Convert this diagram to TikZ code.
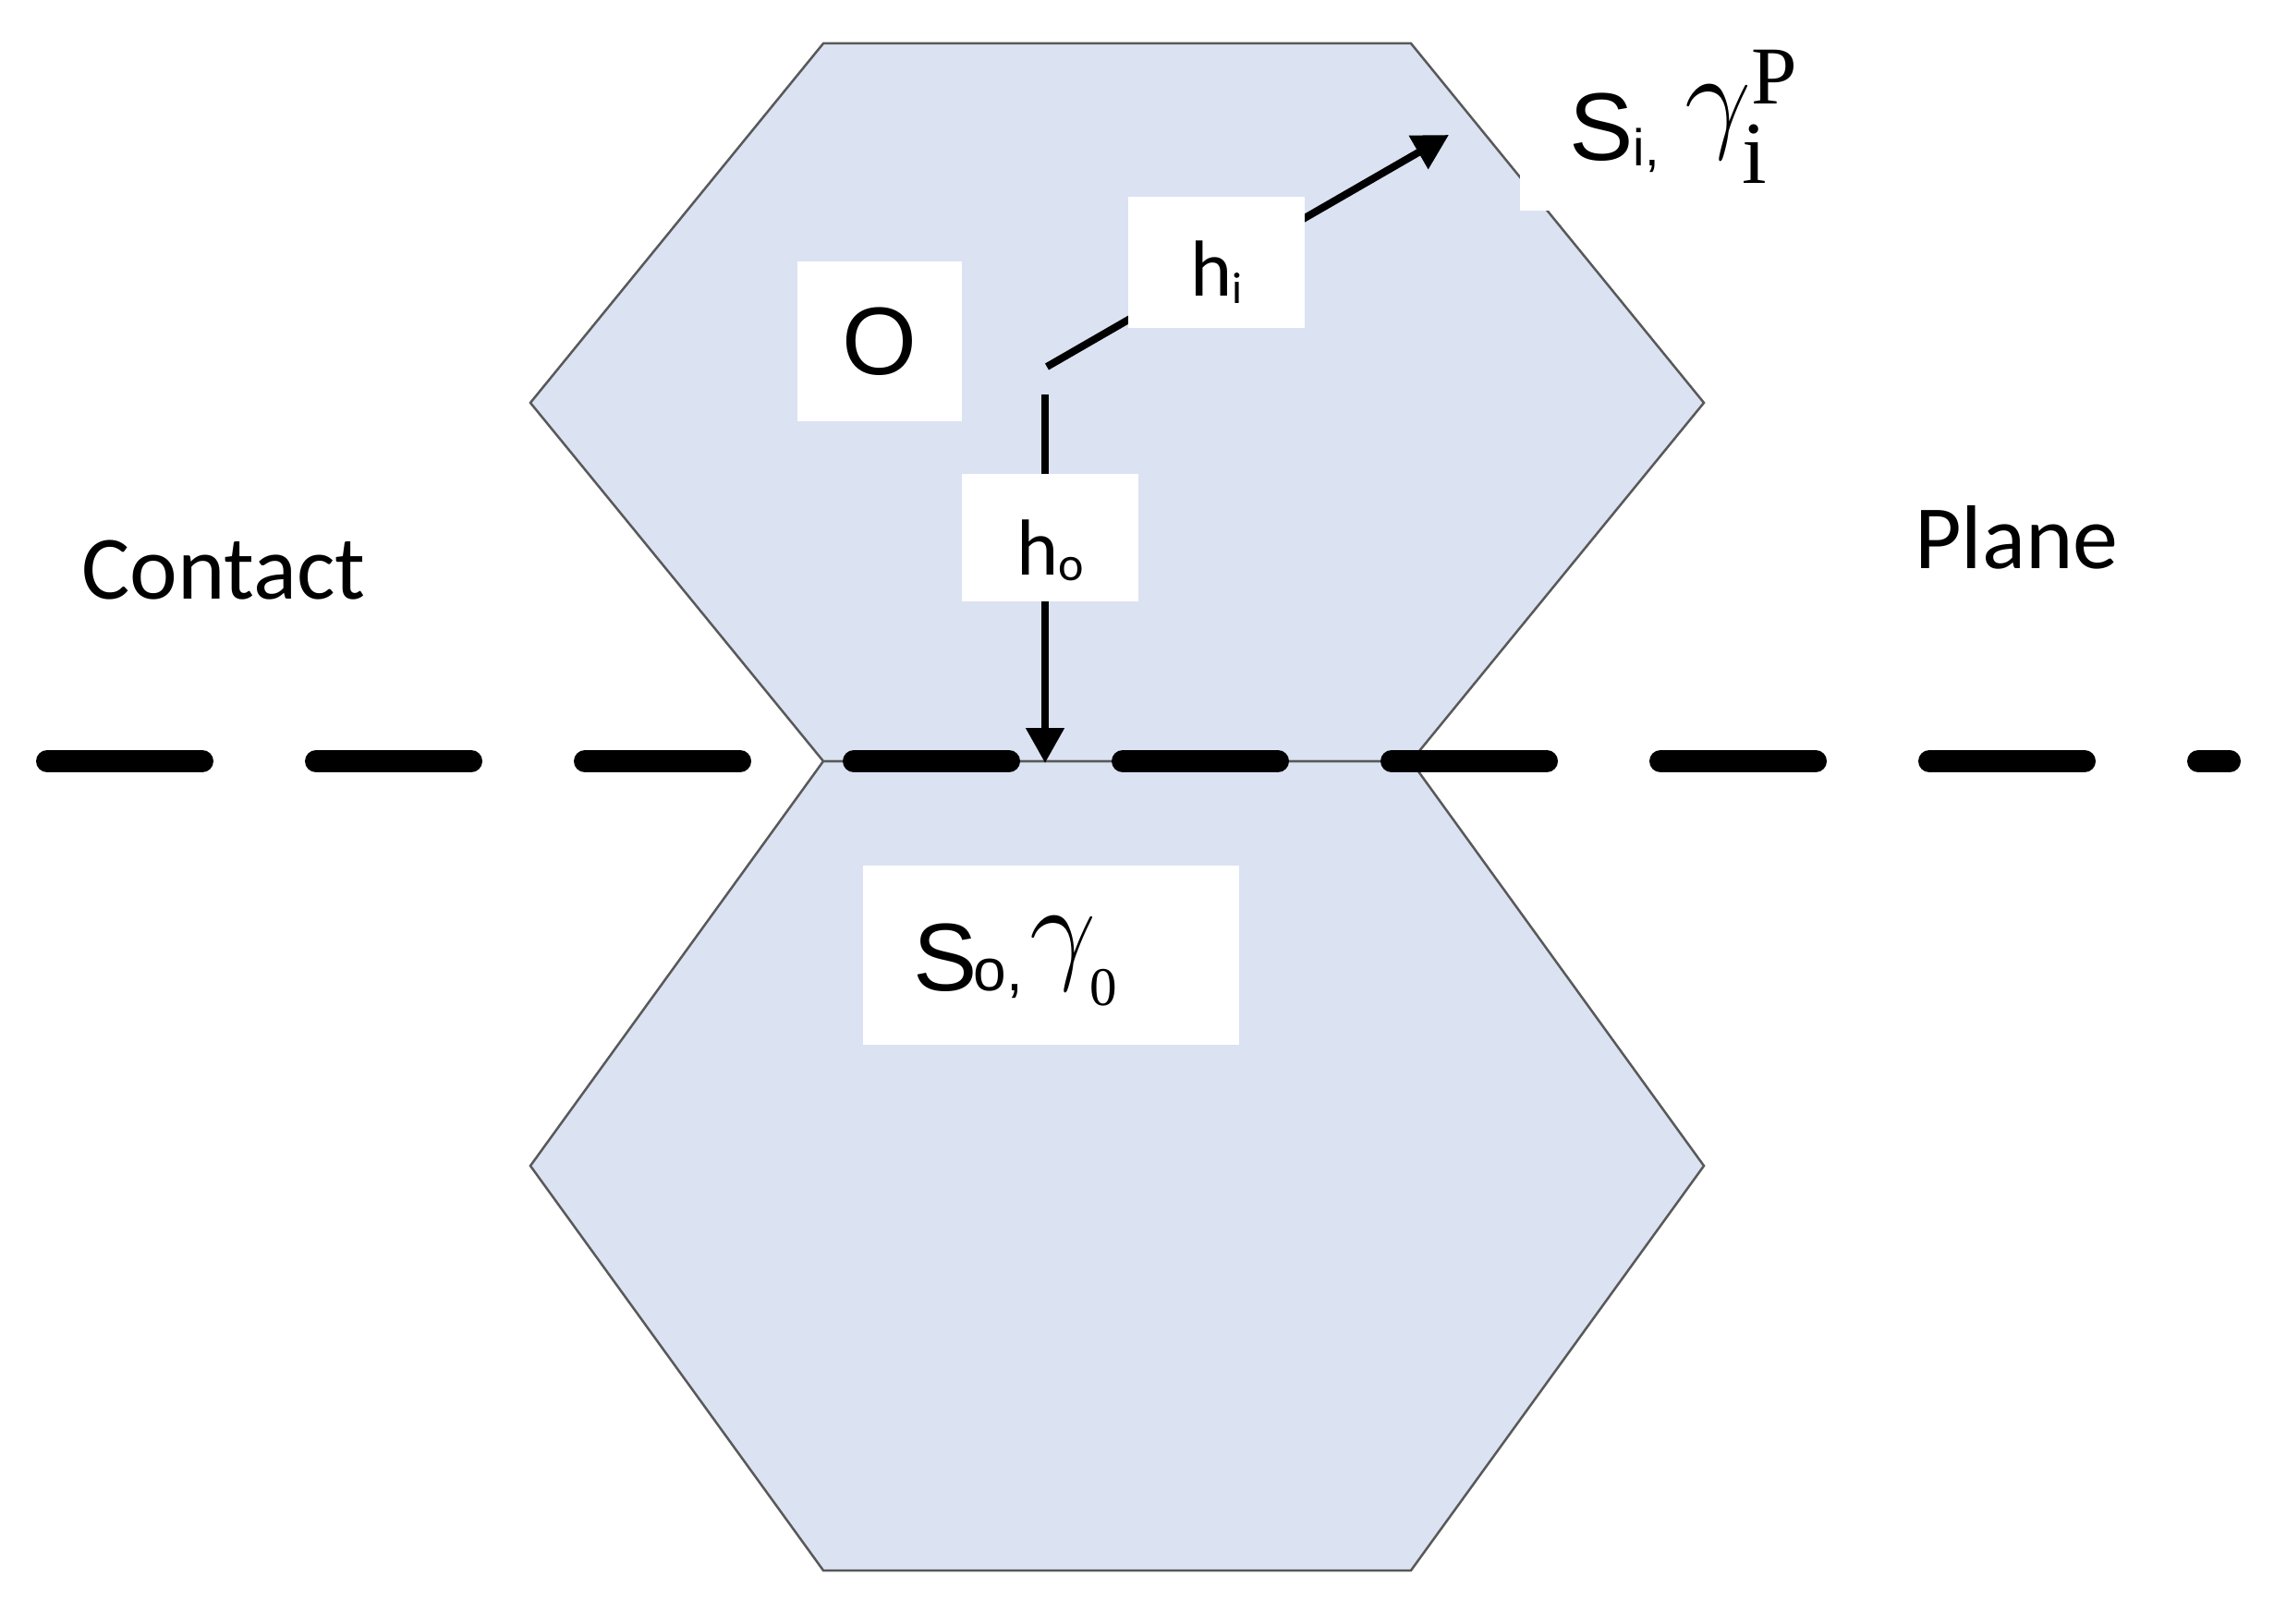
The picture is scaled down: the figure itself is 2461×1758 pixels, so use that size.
\RequirePackage{fix-cm}
\documentclass[tikz,border=0pt]{standalone}
\usepackage{fontspec}
\setmainfont{Liberation Sans}
\newfontfamily\calib{Carlito}
\newfontfamily\tms{Liberation Serif}
\usetikzlibrary{arrows.meta}
\definecolor{hexfill}{RGB}{219,226,242}
\definecolor{hexline}{RGB}{89,89,89}
\newcommand{\gam}[1]{{\fontsize{#1}{#1}\selectfont$\gamma$}}
\begin{document}
\begin{tikzpicture}[x=1pt,y=-1pt,
  hex/.style={fill=hexfill,draw=hexline,line width=2.5pt,line join=miter},
  arr/.style={line width=8pt,-{Triangle[width=40pt,length=38pt]}},
  dashline/.style={line width=24pt,line cap=round,dash pattern=on 168pt off 123pt},
  wbox/.style={fill=white,draw=none,inner sep=0pt,rectangle},
  sidelabel/.style={inner sep=0pt,anchor=base west,font=\calib\fontsize{98}{98}\selectfont}]
\useasboundingbox (0,0) rectangle (2461,1758);
\fill[white] (0,0) rectangle (2461,1758);
% top hexagon
\coordinate (t1) at (891,47);
\coordinate (t2) at (1527,47);
\coordinate (t3) at (1844,436);
\coordinate (t4) at (1527,824);
\coordinate (t5) at (891,824);
\coordinate (t6) at (574,436);
\draw[hex] (t1) -- (t2) -- (t3) -- (t4) -- (t5) -- (t6) -- cycle;
% bottom hexagon
\coordinate (b1) at (891,824);
\coordinate (b2) at (1527,824);
\coordinate (b3) at (1844,1262);
\coordinate (b4) at (1527,1700);
\coordinate (b5) at (891,1700);
\coordinate (b6) at (574,1262);
\draw[hex] (b1) -- (b2) -- (b3) -- (b4) -- (b5) -- (b6) -- cycle;
% contact plane
\coordinate (dl) at (51,824);
\coordinate (dr) at (2413,824);
\draw[dashline] (dl) -- (dr);
% arrows
\coordinate (oi) at (1133,397);
\coordinate (tipi) at (1568,146);
\coordinate (oo) at (1131,427);
\coordinate (tipo) at (1131,826);
\draw[arr] (oi) -- (tipi);
\draw[arr] (oo) -- (tipo);
% boxes
\node[wbox,minimum width=178pt,minimum height=173pt] (obox) at (952,369.5)
  {\fontsize{104}{104}\selectfont O};
\node[wbox,minimum width=191pt,minimum height=142pt,text height=72pt,text depth=0pt] (hibox) at (1316.5,284)
  {\calib\fontsize{86}{86}\selectfont h\raisebox{-8pt}{\fontsize{48}{48}\selectfont i}};
\node[wbox,minimum width=191pt,minimum height=138pt,text height=80pt,text depth=0pt] (hobox) at (1136.5,582)
  {\calib\fontsize{86}{86}\selectfont h\raisebox{-6pt}{\fontsize{52}{52}\selectfont o}};
\node[wbox,minimum width=407pt,minimum height=194pt] (sobox) at (1137.5,1034) {};
\node[wbox,minimum width=395pt,minimum height=178pt] (sibox) at (1842.5,139) {};
% labels
\node[inner sep=0pt,anchor=base west] (silabel) at (1698,173)
  {\fontsize{104}{104}\selectfont S\raisebox{-6pt}{\fontsize{56}{56}\selectfont i,}\hspace{28pt}\raisebox{25pt}{\gam{128}}\kern-10pt{\tms\makebox[0pt][l]{\hspace{10pt}\raisebox{61pt}{\fontsize{89}{89}\selectfont P}}\raisebox{-25pt}{\fontsize{96}{96}\selectfont i}}};
\node[inner sep=0pt,anchor=base west] (solabel) at (988,1072)
  {\fontsize{104}{104}\selectfont S\kern-4pt{\fontsize{64}{64}\selectfont o,}\hspace{8pt}\raisebox{25pt}{\gam{128}}\kern-7pt{\tms\raisebox{-16pt}{\fontsize{59}{59}\selectfont 0}}};
\node[sidelabel] (contact) at (88,648) {Contact};
\node[sidelabel] (plane) at (2072,615) {Plane};
\end{tikzpicture}
\end{document}
